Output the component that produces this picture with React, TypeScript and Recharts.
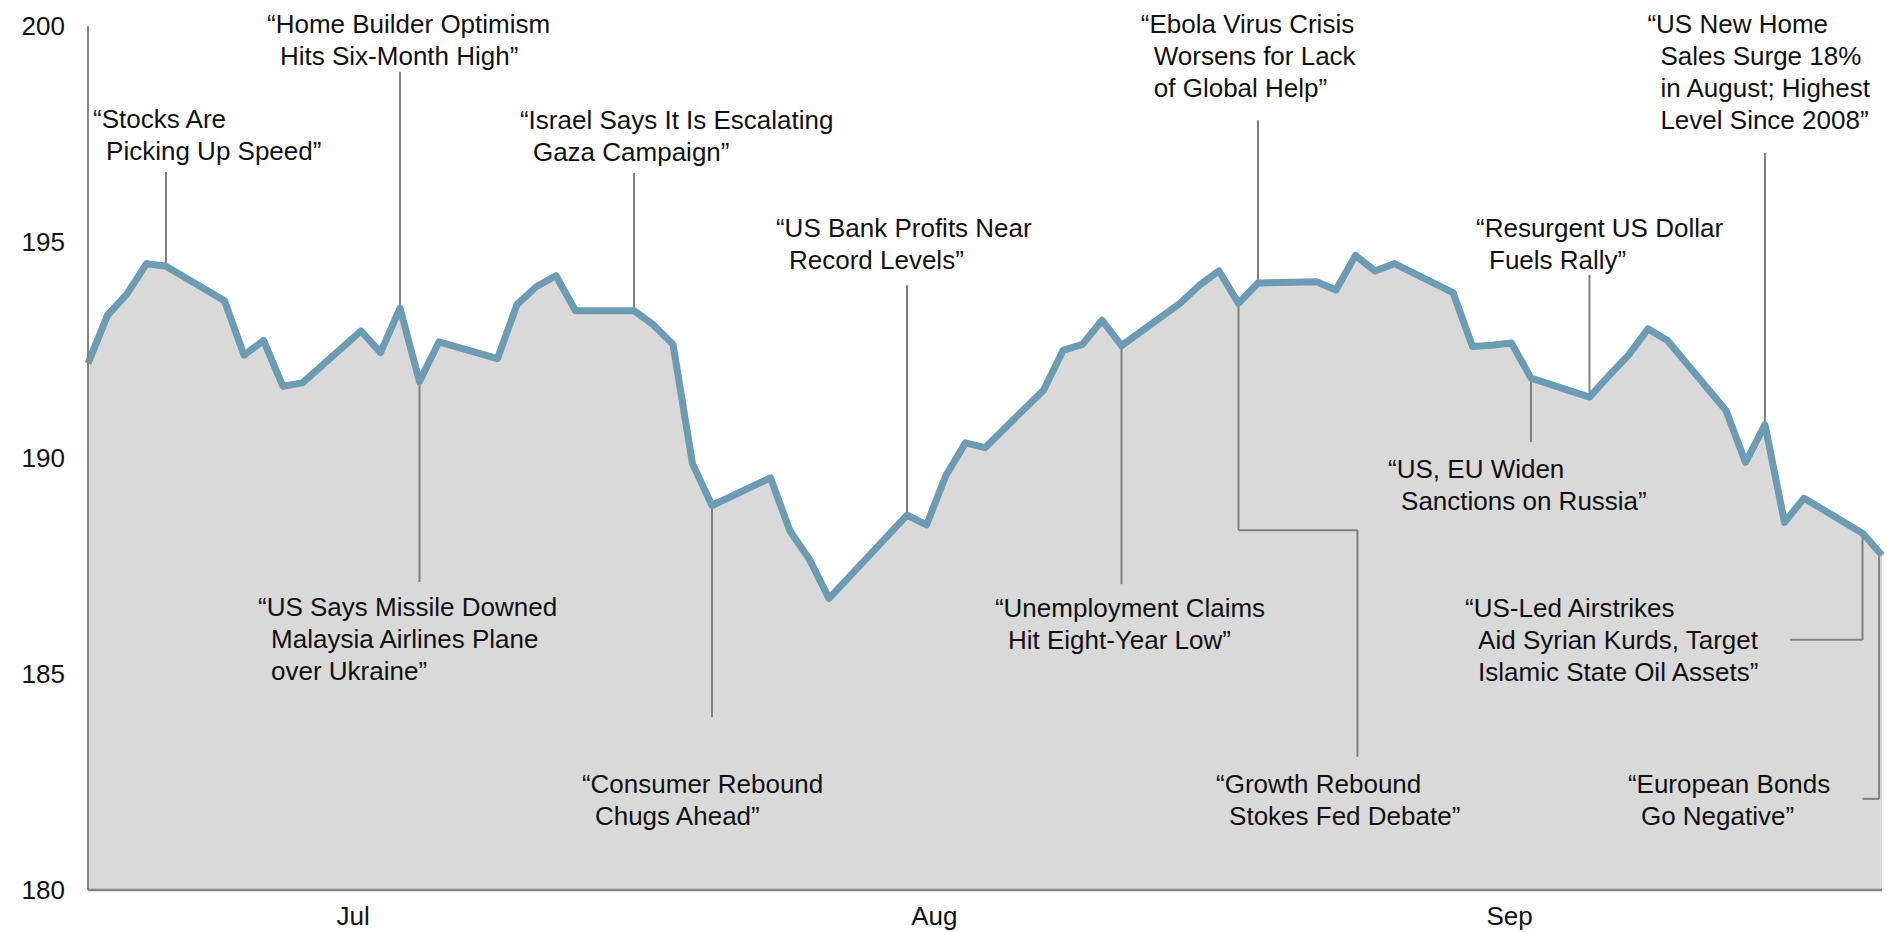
import {
  Area,
  ComposedChart,
  Line,
  ReferenceDot,
  ReferenceLine,
  XAxis,
  YAxis,
} from "recharts";

// calendar day index, 0 = Jun 30 2014 (holidays carried)
const dias = [
  0, 1, 2, 3, 4, 7, 8, 9, 10, 11, 14, 15, 16, 17, 18, 21, 22, 23, 24, 25, 28,
  29, 30, 31, 32, 35, 36, 37, 38, 39, 42, 43, 44, 45, 46, 49, 50, 51, 52, 53,
  56, 57, 58, 59, 60, 63, 64, 65, 66, 67, 70, 71, 72, 73, 74, 77, 78, 79, 80,
  81, 84, 85, 86, 87, 88, 91, 92,
];

const valores = [
  192.19, 193.3, 193.8, 194.5, 194.44, 193.64, 192.38, 192.72, 191.66, 191.74,
  192.94, 192.44, 193.47, 191.77, 192.69, 192.3, 193.55, 193.97, 194.22,
  193.41, 193.41, 193.08, 192.63, 189.87, 188.9, 189.54, 188.31, 187.65,
  186.75, 187.23, 188.68, 188.45, 189.6, 190.35, 190.24, 191.57, 192.49,
  192.63, 193.19, 192.6, 193.58, 194.0, 194.33, 193.58, 194.05, 194.08,
  193.89, 194.69, 194.33, 194.5, 193.83, 192.58, 192.61, 192.66, 191.85,
  191.41, 191.91, 192.38, 192.99, 192.72, 191.1, 189.9, 190.77, 188.51,
  189.07, 188.26, 187.75,
];

const yTicks = [180, 185, 190, 195, 200];
const mesesPos = [13.6, 43.4, 72.9];
const mesesLabel = ["Jul", "Aug", "Sep"];

const chartData = dias.map((dia, i) => ({ dia, valor: valores[i] }));

function valorEm(d: number) {
  for (let i = 0; i < dias.length - 1; i++) {
    if (d >= dias[i] && d <= dias[i + 1]) {
      const t = (d - dias[i]) / (dias[i + 1] - dias[i]);
      return valores[i] + t * (valores[i + 1] - valores[i]);
    }
  }
  return valores[valores.length - 1];
}

type Manchete = {
  linhas: string[];
  x: number;
  y: number;
  guia: [number, number | null][];
};

// null in guia = point sits on the series
const manchetes: Manchete[] = [
  { linhas: ["“Stocks Are", "Picking Up Speed”"], x: 0.26, y: 197.64, guia: [[4, 196.62], [4, null]] },
  { linhas: ["“Home Builder Optimism", "Hits Six-Month High”"], x: 9.18, y: 199.84, guia: [[16, 198.94], [16, null]] },
  { linhas: ["“Israel Says It Is Escalating", "Gaza Campaign”"], x: 22.15, y: 197.62, guia: [[28, 196.6], [28, null]] },
  { linhas: ["“US Says Missile Downed", "Malaysia Airlines Plane", "over Ukraine”"], x: 8.72, y: 186.34, guia: [[17, null], [17, 187.13]] },
  { linhas: ["“Consumer Rebound", "Chugs Ahead”"], x: 25.33, y: 182.25, guia: [[32, null], [32, 184.0]] },
  { linhas: ["“US Bank Profits Near", "Record Levels”"], x: 35.28, y: 195.12, guia: [[42, 194.0], [42, null]] },
  { linhas: ["“Unemployment Claims", "Hit Eight-Year Low”"], x: 46.51, y: 186.32, guia: [[53, null], [53, 187.08]] },
  { linhas: ["“Ebola Virus Crisis", "Worsens for Lack", "of Global Help”"], x: 53.99, y: 199.84, guia: [[60, 197.82], [60, null]] },
  { linhas: ["“Growth Rebound", "Stokes Fed Debate”"], x: 57.85, y: 182.25, guia: [[59, null], [59, 188.33], [65.1, 188.33], [65.1, 183.08]] },
  { linhas: ["“US New Home", "Sales Surge 18%", "in August; Highest", "Level Since 2008”"], x: 79.97, y: 199.84, guia: [[86, 197.06], [86, null]] },
  { linhas: ["“Resurgent US Dollar", "Fuels Rally”"], x: 71.18, y: 195.12, guia: [[77, 194.24], [77, null]] },
  { linhas: ["“US, EU Widen", "Sanctions on Russia”"], x: 66.67, y: 189.54, guia: [[74, null], [74, 190.37]] },
  { linhas: ["“US-Led Airstrikes", "Aid Syrian Kurds, Target", "Islamic State Oil Assets”"], x: 70.62, y: 186.32, guia: [[91, null], [91, 185.79], [87.28, 185.79]] },
  { linhas: ["“European Bonds", "Go Negative”"], x: 78.97, y: 182.25, guia: [[91.85, null], [91.85, 182.11], [91, 182.11]] },
];

const FONTE = 26;
const ENTRELINHA = 32;

function TextoManchete({ cx, cy, linhas }: any) {
  if (cx == null || cy == null) return null;
  return (
    <text x={cx} y={cy} fontSize={FONTE} fill="#111">
      {linhas.map((l: string, i: number) => (
        <tspan key={i} x={cx + (i > 0 ? 13 : 0)} y={cy + i * ENTRELINHA}>
          {l}
        </tspan>
      ))}
    </text>
  );
}

export default function App() {
  const segmentos: { a: { x: number; y: number }; b: { x: number; y: number } }[] = [];
  manchetes.forEach((m) => {
    const pts = m.guia.map(([x, y]) => ({ x, y: y == null ? valorEm(x) : y }));
    for (let i = 0; i < pts.length - 1; i++) segmentos.push({ a: pts[i], b: pts[i + 1] });
  });

  return (
    <div
      style={{
        width: 1887,
        height: 932,
        fontFamily: "'Liberation Sans', Arial, sans-serif",
      }}
    >
      <style>{"body{margin:0}"}</style>
      <ComposedChart
        width={1887}
        height={932}
        data={chartData}
        margin={{ top: 26, right: 5, bottom: 0, left: 0 }}
      >
        <XAxis
          dataKey="dia"
          type="number"
          domain={[0, 92]}
          ticks={mesesPos}
          tickFormatter={(v) => mesesLabel[mesesPos.indexOf(v)] ?? ""}
          height={42}
          axisLine={{ stroke: "#858585", strokeWidth: 2.5 }}
          tickLine={false}
          tickSize={0}
          tickMargin={17}
          tick={{ fill: "#111", fontSize: FONTE }}
        />
        <YAxis
          type="number"
          domain={[180, 200]}
          ticks={yTicks}
          width={88}
          axisLine={{ stroke: "#858585", strokeWidth: 2 }}
          tickLine={false}
          tickSize={0}
          tickMargin={23}
          tick={{ fill: "#111", fontSize: FONTE }}
        />

        <Area
          type="linear"
          dataKey="valor"
          stroke="none"
          fill="#d9d9d9"
          fillOpacity={1}
          baseValue={180}
          isAnimationActive={false}
        />

        {segmentos.map((s, i) => (
          <ReferenceLine
            key={"g" + i}
            segment={[s.a, s.b]}
            stroke="#808080"
            strokeWidth={2}
            ifOverflow="visible"
          />
        ))}

        <Line
          type="linear"
          dataKey="valor"
          stroke="#6b9cb3"
          strokeWidth={7}
          strokeLinejoin="round"
          dot={false}
          activeDot={false}
          isAnimationActive={false}
        />

        {manchetes.map((m, i) => (
          <ReferenceDot
            key={"m" + i}
            x={m.x}
            y={m.y}
            r={0}
            ifOverflow="visible"
            shape={(p: any) => <TextoManchete cx={p.cx} cy={p.cy} linhas={m.linhas} />}
          />
        ))}
      </ComposedChart>
    </div>
  );
}
